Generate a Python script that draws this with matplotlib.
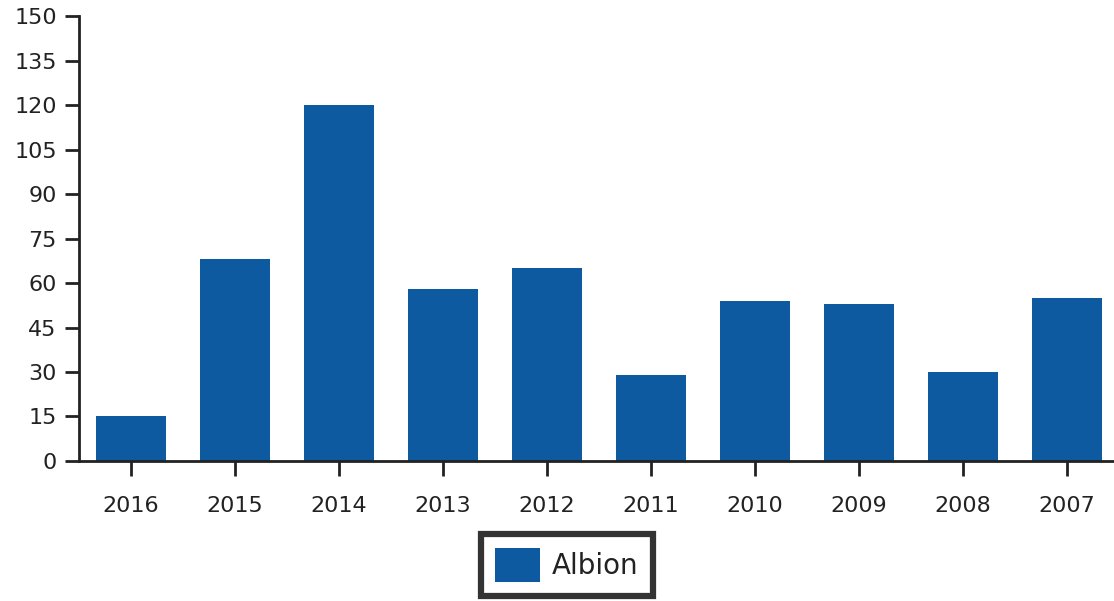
import matplotlib
matplotlib.use("Agg")
import matplotlib.pyplot as plt

years = ["2016", "2015", "2014", "2013", "2012", "2011", "2010", "2009", "2008", "2007"]
albion = [15, 68, 120, 58, 65, 29, 54, 53, 30, 55]
yticks = [0, 15, 30, 45, 60, 75, 90, 105, 120, 135, 150]

bar_color = "#0e5aa0"
dark = "#222222"

fig = plt.figure(figsize=(11.14, 6.01), dpi=100)
ax = fig.add_axes([0.0709, 0.233, 0.929, 0.740])

x = list(range(len(years)))
bars = ax.bar(x, albion, width=0.68, color=bar_color, edgecolor="none", label="Albion")

ax.set_xlim(-0.5, 9.45)
ax.set_ylim(0, 150)
ax.set_yticks(yticks)
ax.set_yticklabels([str(v) for v in yticks], fontsize=16, color=dark)
ax.set_xticks(x)
ax.set_xticklabels(years, fontsize=16, color=dark)

for s in ["top", "right"]:
    ax.spines[s].set_visible(False)
for s in ["left", "bottom"]:
    ax.spines[s].set_color(dark)
    ax.spines[s].set_linewidth(2)

ax.tick_params(axis="y", length=10, width=2, color=dark, pad=6)
ax.tick_params(axis="x", length=11, width=2, color=dark, pad=14)

leg = fig.legend(handles=[bars], labels=["Albion"], loc="center",
                 bbox_to_anchor=(567 / 1114, 1 - 565 / 601), fontsize=20,
                 frameon=True, fancybox=False, framealpha=1,
                 handlelength=1.6, handleheight=1.5,
                 borderpad=0.5, handletextpad=0.45, borderaxespad=0)
leg.get_frame().set_edgecolor("#333333")
leg.get_frame().set_linewidth(4.5)
for t in leg.get_texts():
    t.set_color(dark)

fig.savefig("out.png", dpi=100)
